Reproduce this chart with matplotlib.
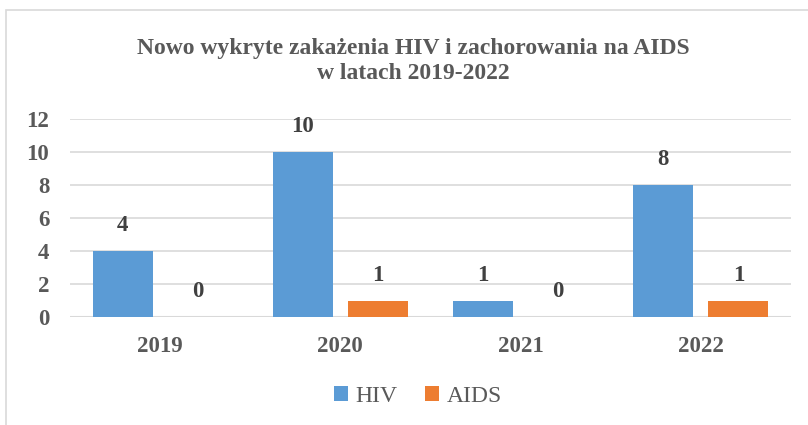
import matplotlib
matplotlib.use("Agg")
import matplotlib.pyplot as plt
import numpy as np
from matplotlib.patches import Rectangle

years = ["2019", "2020", "2021", "2022"]
hiv = [4, 10, 1, 8]
aids = [0, 1, 0, 1]
yticks = [0, 2, 4, 6, 8, 10, 12]
title = "Nowo wykryte zakażenia HIV i zachorowania na AIDS\nw latach 2019-2022"

plt.rcParams['font.family'] = ['Liberation Serif', 'DejaVu Serif']

fig = plt.figure(figsize=(8.08, 4.25), dpi=100)
fig.patch.set_facecolor('white')
# outer frame (right and bottom outside visible area)
fig.patches.append(Rectangle((6/808, -0.05), 1.2, (425-10)/425 + 0.05, transform=fig.transFigure,
                             fill=False, edgecolor='#d9d9d9', linewidth=1.2))

ax = fig.add_axes([70/808, 1-317/425, (791-70)/808, (317-119)/425])
x = np.arange(len(years))
w = 0.333
off = 0.208
b1 = ax.bar(x - off, hiv, w, color='#5B9BD5', label='HIV', zorder=3)
b2 = ax.bar(x + off, aids, w, color='#ED7D31', label='AIDS', zorder=3)

for bars, vals in ((b1, hiv), (b2, aids)):
    for r, v in zip(bars, vals):
        ax.text(r.get_x() + r.get_width()/2, v + 0.9, str(v), ha='center', va='bottom',
                fontsize=16.5, fontweight='bold', color='#404040')

ax.set_xlim(-0.5, len(years) - 0.5)
ax.set_ylim(0, 12)
ax.set_yticks(yticks)
ax.set_xticks(x)
ax.set_xticklabels(years)
ax.yaxis.grid(True, color='#d9d9d9', linewidth=1.2, zorder=0)
for s in ax.spines.values():
    s.set_visible(False)
ax.axhline(0, color='#d9d9d9', linewidth=1.5, zorder=2)
ax.tick_params(axis='both', length=0, labelsize=16.5, colors='#595959')
ax.tick_params(axis='x', pad=14)
ax.tick_params(axis='y', pad=15)
for lbl in ax.get_xticklabels() + ax.get_yticklabels():
    lbl.set_fontweight('bold')

fig.text(0.512, 1-61/425, title, ha='center', va='center', fontsize=17, fontweight='bold',
         color='#595959', linespacing=1.2)

leg = fig.legend(handles=[b1, b2], loc='center', bbox_to_anchor=(0.517, 1-396/425), ncol=2,
                 frameon=False, fontsize=17, handlelength=0.6, handleheight=0.6,
                 handletextpad=0.3, columnspacing=1.2, labelcolor='#595959')

fig.savefig('out.png', dpi=100, facecolor='white')
